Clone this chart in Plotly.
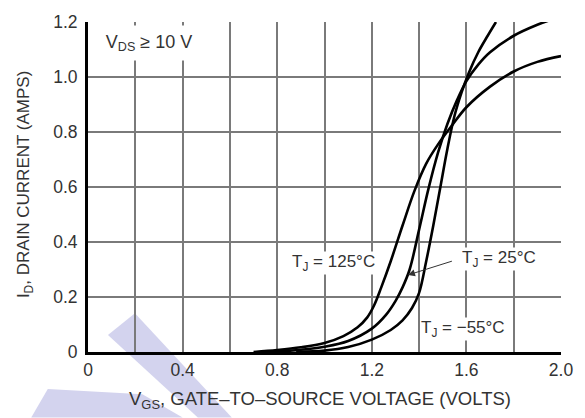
import plotly.graph_objects as go

# Transfer characteristics: drain current vs gate-source voltage
vgs_125 = [0.70, 0.80, 0.90, 1.00, 1.08, 1.14, 1.18, 1.21, 1.24, 1.28, 1.33, 1.38, 1.43, 1.48, 1.54, 1.60, 1.70, 1.80, 1.90, 2.00]
id_125 = [0.000, 0.007, 0.017, 0.033, 0.058, 0.090, 0.125, 0.170, 0.235, 0.330, 0.460, 0.585, 0.685, 0.755, 0.825, 0.890, 0.965, 1.020, 1.055, 1.076]

vgs_25 = [0.77, 0.90, 1.00, 1.10, 1.20, 1.26, 1.30, 1.33, 1.36, 1.40, 1.44, 1.48, 1.52, 1.56, 1.60, 1.65, 1.70, 1.80, 1.90, 1.965]
id_25 = [0.000, 0.008, 0.019, 0.040, 0.085, 0.135, 0.185, 0.235, 0.300, 0.445, 0.595, 0.725, 0.830, 0.915, 0.985, 1.045, 1.090, 1.150, 1.190, 1.210]

vgs_m55 = [0.88, 1.00, 1.10, 1.20, 1.28, 1.33, 1.37, 1.40, 1.43, 1.46, 1.49, 1.52, 1.55, 1.58, 1.61, 1.65, 1.69, 1.725]
id_m55 = [0.000, 0.005, 0.018, 0.045, 0.080, 0.115, 0.160, 0.215, 0.330, 0.460, 0.600, 0.740, 0.860, 0.945, 1.015, 1.090, 1.150, 1.200]

x_grid = [0, 0.2, 0.4, 0.6, 0.8, 1.0, 1.2, 1.4, 1.6, 1.8, 2.0]
x_labels = ["0", "", "0.4", "", "0.8", "", "1.2", "", "1.6", "", "2.0"]
y_grid = [0, 0.2, 0.4, 0.6, 0.8, 1.0, 1.2]
y_labels = ["0", "0.2", "0.4", "0.6", "0.8", "1.0", "1.2"]

FONT = "Liberation Sans, Arial, sans-serif"
TXT = "#333333"

fig = go.Figure()
for xs, ys in [(vgs_125, id_125), (vgs_25, id_25), (vgs_m55, id_m55)]:
    fig.add_trace(go.Scatter(
        x=xs, y=ys, mode="lines",
        line=dict(color="black", width=2.6, shape="spline", smoothing=1.0),
        hoverinfo="skip", showlegend=False,
    ))

axis_common = dict(
    showgrid=True, gridcolor="#7a7a7a", gridwidth=1.6,
    zeroline=False, ticks="", showline=True, linecolor="black", linewidth=2.8,
    tickfont=dict(family=FONT, size=17.5, color=TXT),
)
fig.update_xaxes(range=[0, 2.0], tickmode="array", tickvals=x_grid, ticktext=x_labels, **axis_common)
fig.update_yaxes(range=[0, 1.2], tickmode="array", tickvals=y_grid, ticktext=y_labels, ticklabelstandoff=4, **axis_common)

# light diagonal bands in the lower-left corner (pixel-based paper coordinates)
band_color = "#d3d3ee"
band1 = [(0.0422, 0.0512), (0.0992, 0.1175), (0.304, -0.1988), (0.2322, -0.1988)]
band2 = [(-0.120, -0.1988), (-0.085, -0.112), (0.115, -0.128), (0.200, -0.1988)]
for poly in (band1, band2):
    path = "M " + " L ".join(f"{px:.4f},{py:.4f}" for px, py in poly) + " Z"
    fig.add_shape(type="path", xref="paper", yref="paper", layer="below",
                  path=path, fillcolor=band_color, line=dict(width=0))

lbl_font = dict(family=FONT, size=17, color=TXT)
annotations = [
    dict(x=0.258, y=1.122, xref="x", yref="y", text="V<sub>DS</sub> ≥ 10 V", showarrow=False,
         bgcolor="white", width=118, height=32, font=dict(family=FONT, size=18, color=TXT)),
    dict(x=1.04, y=0.325, xref="x", yref="y", text="T<sub>J</sub> = 125°C", showarrow=False,
         bgcolor="white", font=lbl_font, borderpad=0),
    dict(x=1.738, y=0.34, xref="x", yref="y", text="T<sub>J</sub> = 25°C", showarrow=False,
         bgcolor="white", font=lbl_font, borderpad=0),
    dict(x=1.586, y=0.083, xref="x", yref="y", text="T<sub>J</sub> = −55°C", showarrow=False,
         bgcolor="white", font=lbl_font, borderpad=0),
    dict(x=1.353, y=0.28, xref="x", yref="y", ax=1.545, ay=0.332, axref="x", ayref="y",
         text="", showarrow=True, arrowhead=2, arrowsize=1.4, arrowwidth=1, arrowcolor="#333333"),
    dict(x=0.49, y=-0.1446, xref="paper", yref="paper", text="V<sub>GS</sub>, GATE–TO–SOURCE VOLTAGE (VOLTS)",
         showarrow=False, font=dict(family=FONT, size=18.5, color=TXT), xanchor="center", yanchor="middle"),
    dict(x=-0.133, y=0.506, xref="paper", yref="paper", text="I<sub>D</sub>, DRAIN CURRENT (AMPS)",
         showarrow=False, font=lbl_font, textangle=-90, xanchor="center", yanchor="middle"),
]
fig.update_layout(
    width=585, height=418,
    margin=dict(l=88, r=23, t=20, b=66),
    paper_bgcolor="white", plot_bgcolor="white",
    annotations=annotations,
    showlegend=False,
)
fig.write_html("out.html")
